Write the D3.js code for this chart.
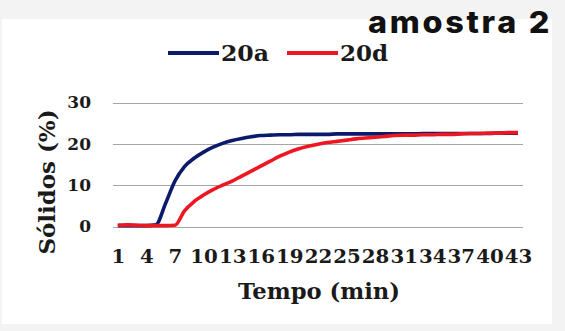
<!DOCTYPE html>
<meta charset="utf-8">
<head>
    <title>amostra 2</title>
    <style>
        body { margin: 0; background: #f3f3f3; }
        svg { display: block; }
        .serif { font-family: "DejaVu Serif", serif; font-weight: bold; fill: #1a1a1a; }
    </style>
</head>
<body>
    <script src="https://cdn.jsdelivr.net/npm/d3@7"></script>
    <div id="chart"></div>
    <script>

        // tempo (min) 1..43
        var minutes = d3.range(1, 44);
        var tickLabels = d3.range(1, 44, 3);
        var yTicks = [0, 10, 20, 30];

        var serie20a = [0.2, 0.2, 0.2, 0.2, 0.4, 5.5, 11, 14.5, 16.5, 18,
                        19.2, 20.1, 20.8, 21.3, 21.7, 22, 22.1, 22.2, 22.2, 22.3,
                        22.3, 22.3, 22.3, 22.4, 22.4, 22.4, 22.4, 22.4, 22.4, 22.4,
                        22.4, 22.4, 22.5, 22.5, 22.5, 22.5, 22.5, 22.5, 22.5, 22.5,
                        22.6, 22.6, 22.6];
        var serie20d = [0.3, 0.4, 0.3, 0.2, 0.2, 0.2, 0.3, 3.8, 6, 7.6,
                        8.9, 10, 11, 12.2, 13.4, 14.6, 15.8, 17, 18, 18.8,
                        19.4, 19.9, 20.3, 20.6, 20.9, 21.2, 21.4, 21.6, 21.8, 22,
                        22.1, 22.1, 22.2, 22.2, 22.3, 22.3, 22.4, 22.5, 22.5, 22.6,
                        22.6, 22.7, 22.7];
        var seriesNames = ['20a', '20d'];
        var seriesColors = ['#0c1a6c', '#ee1620'];

        var width = 565;
        var height = 331;

        var svg = d3.select('#chart')
          .append('svg')
          .attr('width', width)
          .attr('height', height);

        // white plotting card
        svg.append('rect')
          .attr('x', 2).attr('y', 19)
          .attr('width', 550).attr('height', 305)
          .attr('fill', '#ffffff');

        var x = d3.scalePoint()
          .domain(minutes)
          .range([117.8, 518]);

        var y = d3.scaleLinear()
          .domain([0, 30])
          .range([226.5, 102.5]);

        // gridlines
        svg.append('g')
          .selectAll('line')
          .data(yTicks)
          .enter()
          .append('line')
          .attr('x1', 113).attr('x2', 523)
          .attr('y1', function(d) { return Math.round(y(d)) + 0.5; })
          .attr('y2', function(d) { return Math.round(y(d)) + 0.5; })
          .attr('stroke', '#a6a6a6')
          .attr('stroke-width', 1.2);

        // axes
        var xAxis = svg.append('g')
          .attr('transform', 'translate(0,263)')
          .call(d3.axisBottom(x).tickValues(tickLabels).tickSize(0).tickPadding(0));
        xAxis.select('.domain').remove();
        xAxis.selectAll('text')
          .attr('class', 'serif')
          .attr('y', 0).attr('dy', null)
          .attr('transform', 'scale(1.1,1)')
          .style('font-size', '18px');

        var yAxis = svg.append('g')
          .attr('transform', 'translate(91,0)')
          .call(d3.axisLeft(y).tickValues(yTicks).tickSize(0).tickPadding(0));
        yAxis.select('.domain').remove();
        yAxis.selectAll('text')
          .attr('class', 'serif')
          .style('font-size', '17px');

        // lines
        var line = d3.line()
          .x(function(d, i) { return x(minutes[i]); })
          .y(function(d) { return y(d); })
          .curve(d3.curveMonotoneX);

        [serie20a, serie20d].forEach(function(s, i) {
          svg.append('path')
            .datum(s)
            .attr('d', line)
            .attr('fill', 'none')
            .attr('stroke', seriesColors[i])
            .attr('stroke-width', 3.6)
            .attr('stroke-linejoin', 'round');
        });

        // legend
        var legendX = [168, 287];
        seriesNames.forEach(function(name, i) {
          svg.append('line')
            .attr('x1', legendX[i]).attr('x2', legendX[i] + 51)
            .attr('y1', 53).attr('y2', 53)
            .attr('stroke', seriesColors[i])
            .attr('stroke-width', 4);
          svg.append('text')
            .attr('class', 'serif')
            .attr('x', legendX[i] + 53)
            .attr('y', 61)
            .attr('textLength', 48)
            .attr('lengthAdjust', 'spacingAndGlyphs')
            .style('font-size', '22px')
            .text(name);
        });

        // axis titles
        svg.append('text')
          .attr('class', 'serif')
          .attr('transform', 'translate(55,182) rotate(-90)')
          .attr('text-anchor', 'middle')
          .attr('textLength', 145)
          .attr('lengthAdjust', 'spacingAndGlyphs')
          .style('font-size', '23px')
          .text('Sólidos (%)');

        svg.append('text')
          .attr('class', 'serif')
          .attr('x', 319).attr('y', 299)
          .attr('text-anchor', 'middle')
          .attr('textLength', 162)
          .attr('lengthAdjust', 'spacingAndGlyphs')
          .style('font-size', '22px')
          .text('Tempo (min)');

        // corner caption
        svg.append('text')
          .attr('x', 368).attr('y', 33)
          .attr('textLength', 184)
          .attr('lengthAdjust', 'spacingAndGlyphs')
          .style('font-family', 'Inter, sans-serif')
          .style('font-weight', 800)
          .style('font-size', '30px')
          .style('letter-spacing', '2.5px')
          .attr('fill', '#111111')
          .text('amostra 2');
  </script>
</body>
